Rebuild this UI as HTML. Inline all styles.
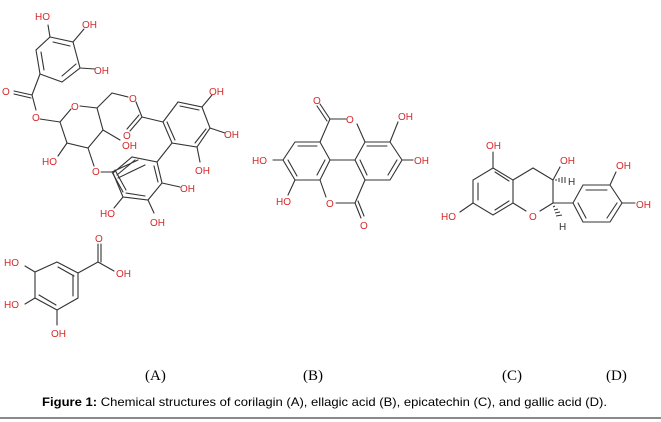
<!DOCTYPE html>
<html><head><meta charset="utf-8"><style>
html,body{margin:0;padding:0;background:#fff;}
body{width:661px;height:422px;position:relative;overflow:hidden;}
svg{position:absolute;left:0;top:0;}
.t{font-family:"Liberation Sans",sans-serif;font-size:10px;fill:#d42a2a;}
.l{font-family:"Liberation Serif",serif;font-size:15px;fill:#000;}
</style></head><body>
<svg width="661" height="422" viewBox="0 0 661 422">
<g stroke="#333" stroke-width="1.1" fill="none" stroke-linecap="round">
<polygon points="50,37 73,42 80,68 62,82 40,74 36,50"/>
<line x1="53" y1="42" x2="70" y2="46"/><line x1="76" y1="64" x2="62" y2="76"/><line x1="41" y1="52" x2="44" y2="70"/>
<line x1="50" y1="37" x2="48" y2="25"/><line x1="73" y1="42" x2="84" y2="29"/><line x1="80" y1="68" x2="95" y2="69"/>
<line x1="40" y1="74" x2="32" y2="95"/><line x1="32" y1="95" x2="14" y2="91"/><line x1="31" y1="98" x2="14" y2="94"/>
<line x1="32" y1="95" x2="36" y2="110"/><line x1="40" y1="119" x2="60" y2="122"/>
<polyline points="60,122 71,109"/><polyline points="80,106 97,108 103,130 88,148 67,143 60,122"/>
<line x1="97" y1="108" x2="112" y2="93"/><line x1="112" y1="93" x2="128" y2="97"/>
<line x1="136" y1="102" x2="142" y2="117"/><line x1="142" y1="117" x2="130" y2="131"/><line x1="139" y1="115" x2="127" y2="129"/>
<line x1="142" y1="117" x2="163" y2="122"/>
<line x1="103" y1="130" x2="120" y2="140"/><line x1="67" y1="143" x2="58" y2="156"/><line x1="88" y1="148" x2="94" y2="166"/>
<polygon points="163,122 178,102 202,107 210,128 197,147 172,143"/>
<line x1="180" y1="106" x2="199" y2="110"/><line x1="206" y1="129" x2="195" y2="143"/><line x1="167" y1="122" x2="175" y2="140"/>
<line x1="202" y1="107" x2="212" y2="95"/><line x1="210" y1="128" x2="225" y2="133"/><line x1="197" y1="147" x2="200" y2="162"/>
<line x1="172" y1="143" x2="157" y2="162"/>
<polygon points="157,162 162,183 148,200 123,197 113,173 132,157"/>
<line x1="154" y1="166" x2="158" y2="182"/><line x1="145" y1="196" x2="126" y2="193"/><line x1="117" y1="175" x2="135" y2="160"/>
<line x1="162" y1="183" x2="180" y2="187"/><line x1="148" y1="200" x2="154" y2="213"/><line x1="123" y1="197" x2="114" y2="208"/>
<line x1="101" y1="172" x2="112" y2="172"/><line x1="112" y1="172" x2="123" y2="192"/><line x1="115" y1="170" x2="126" y2="190"/>
<line x1="112" y1="172" x2="138" y2="160"/><line x1="118" y1="178" x2="145" y2="165"/>
<polygon points="57,262 78,273 78,298 57,310 35,298 35,272"/>
<line x1="58" y1="267" x2="74" y2="276"/><line x1="73" y1="275" x2="73" y2="296"/><line x1="39" y1="295" x2="56" y2="305"/>
<line x1="78" y1="273" x2="98" y2="262"/><line x1="98" y1="262" x2="98" y2="244"/><line x1="101" y1="262" x2="101" y2="244"/>
<line x1="98" y1="262" x2="114" y2="271"/>
<line x1="35" y1="272" x2="25" y2="266"/><line x1="35" y1="298" x2="25" y2="304"/><line x1="57" y1="310" x2="57" y2="325"/>
<polygon points="295,142 320,142 330,160 320,180 295,180 283,160"/>
<polygon points="355,160 365,142 390,142 402,160 390,180 365,180"/>
<line x1="298" y1="146" x2="317" y2="146"/><line x1="325" y1="160" x2="317" y2="175"/><line x1="288" y1="160" x2="297" y2="176"/>
<line x1="330" y1="160" x2="355" y2="160"/>
<line x1="367" y1="146" x2="387" y2="146"/><line x1="397" y1="160" x2="388" y2="175"/><line x1="360" y1="160" x2="367" y2="175"/>
<line x1="320" y1="142" x2="330" y2="119"/><line x1="330" y1="119" x2="346" y2="119"/><line x1="357" y1="124" x2="365" y2="142"/>
<line x1="330" y1="119" x2="320" y2="104"/><line x1="327" y1="121" x2="317" y2="106"/>
<line x1="320" y1="180" x2="326" y2="197"/><line x1="336" y1="203" x2="355" y2="203"/><line x1="355" y1="203" x2="365" y2="180"/>
<line x1="355" y1="203" x2="361" y2="218"/><line x1="358" y1="201" x2="364" y2="216"/>
<line x1="390" y1="142" x2="398" y2="122"/><line x1="402" y1="160" x2="413" y2="160"/>
<line x1="283" y1="160" x2="273" y2="160"/><line x1="295" y1="180" x2="288" y2="195"/>
<polygon points="493,168 513,180 513,203 493,215 473,203 473,180"/>
<line x1="478" y1="183" x2="478" y2="200"/><line x1="495" y1="172" x2="509" y2="181"/><line x1="495" y1="210" x2="509" y2="201"/>
<line x1="493" y1="168" x2="493" y2="152"/><line x1="473" y1="203" x2="460" y2="212"/>
<line x1="513" y1="180" x2="533" y2="168"/><line x1="533" y1="168" x2="553" y2="180"/><line x1="553" y1="180" x2="553" y2="203"/>
<line x1="553" y1="203" x2="540" y2="211"/><line x1="526" y1="211" x2="513" y2="203"/>
<line x1="553" y1="180" x2="560" y2="167"/>
<line x1="553" y1="203" x2="573" y2="203"/>
<polygon points="573,203 583,185 610,185 622,203 610,222 583,222"/>
<line x1="586" y1="190" x2="607" y2="190"/><line x1="617" y1="203" x2="607" y2="218"/><line x1="578" y1="203" x2="586" y2="218"/>
<line x1="610" y1="185" x2="616" y2="172"/><line x1="622" y1="203" x2="635" y2="203"/>
</g>
<g stroke="#333" stroke-width="1">
<line x1="556" y1="181" x2="556" y2="179"/><line x1="559" y1="182" x2="559" y2="178"/><line x1="562" y1="183" x2="562" y2="177"/><line x1="565" y1="183" x2="565" y2="177"/>
<line x1="553" y1="207" x2="555" y2="206"/><line x1="554" y1="210" x2="558" y2="209"/><line x1="555" y1="213" x2="560" y2="212"/><line x1="556" y1="216" x2="562" y2="215"/>
</g>
<g class="t">
<text x="35" y="20">HO</text><text x="82" y="28">OH</text><text x="94" y="74">OH</text>
<text x="2" y="95">O</text><text x="32" y="121">O</text><text x="71" y="110">O</text>
<text x="129" y="102">O</text><text x="123" y="139">O</text><text x="122" y="149">OH</text>
<text x="42" y="165">HO</text><text x="92" y="175">O</text>
<text x="209" y="95">OH</text><text x="224" y="138">OH</text><text x="195" y="174">OH</text>
<text x="180" y="192">OH</text><text x="150" y="226">OH</text><text x="100" y="217">HO</text>
<text x="4" y="266">HO</text><text x="4" y="308">HO</text><text x="51" y="337">OH</text>
<text x="95" y="242">O</text><text x="116" y="277">OH</text>
<text x="313" y="104">O</text><text x="346" y="123">O</text><text x="398" y="120">OH</text><text x="414" y="164">OH</text>
<text x="252" y="164">HO</text><text x="276" y="205">HO</text><text x="326" y="207">O</text><text x="360" y="229">O</text>
<text x="486" y="149">OH</text><text x="441" y="220">HO</text><text x="529" y="220">O</text>
<text x="560" y="164">OH</text><text x="616" y="169">OH</text><text x="636" y="208">OH</text>
</g>
<g style="font-family:'Liberation Sans',sans-serif;font-size:10px;fill:#333"><text x="568" y="185">H</text><text x="559" y="230">H</text></g>
<g class="l"><text x="145" y="380">(A)</text><text x="303" y="380">(B)</text><text x="502" y="380">(C)</text><text x="606" y="380">(D)</text></g>
<text x="42" y="406" style="font-family:'Liberation Sans',sans-serif;font-size:12px;fill:#000" textLength="565" lengthAdjust="spacingAndGlyphs"><tspan font-weight="bold">Figure 1:</tspan> Chemical structures of corilagin (A), ellagic acid (B), epicatechin (C), and gallic acid (D).</text>
<line x1="0" y1="418" x2="661" y2="418" stroke="#444" stroke-width="1.2"/>
</svg>
</body></html>
